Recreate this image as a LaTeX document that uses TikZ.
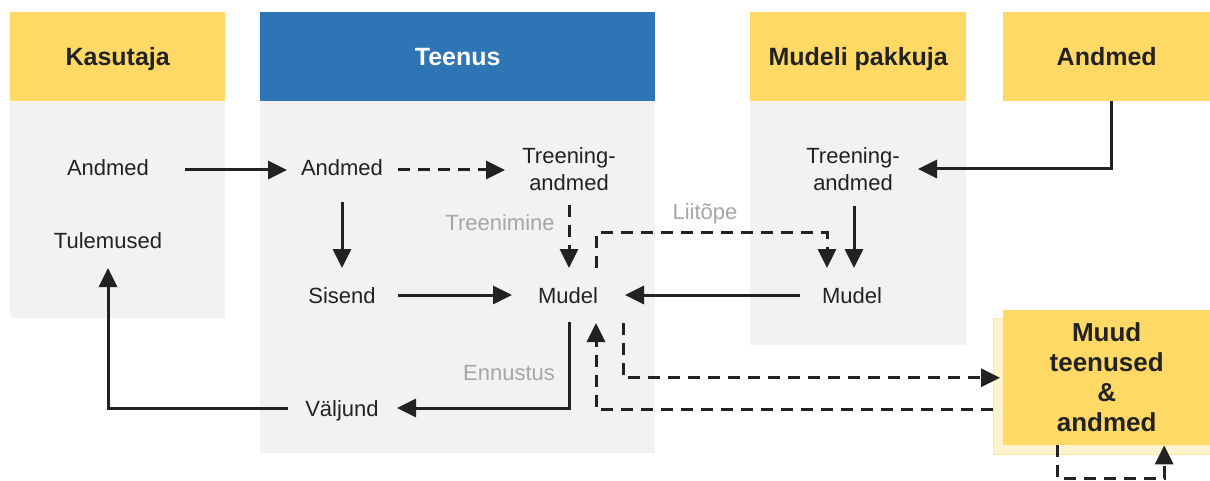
\documentclass[tikz,border=0pt]{standalone}
\usepackage{fontspec}
\setmainfont{Liberation Sans}
\usetikzlibrary{arrows.meta,calc}
\definecolor{hdryellow}{HTML}{FFD966}
\definecolor{hdrblue}{HTML}{2E75B6}
\definecolor{panelgray}{HTML}{F2F2F2}
\definecolor{ink}{HTML}{222222}
\definecolor{labelgray}{HTML}{A6A6A6}
\definecolor{paleyellow}{HTML}{FFF2CC}
\definecolor{paleedge}{HTML}{FFE699}
\begin{document}
\begin{tikzpicture}[x=1pt,y=-1pt,
  hdr/.style={anchor=north west, inner sep=0pt, minimum height=89pt,
    font=\fontsize{25}{30}\selectfont\bfseries, text=ink,
    text height=18pt, text depth=0pt},
  panel/.style={anchor=north west, inner sep=0pt, fill=panelgray},
  txt/.style={inner sep=0pt, font=\fontsize{22}{28}\selectfont, text=ink,
    text height=16pt, text depth=0pt},
  twoline/.style={inner sep=0pt, font=\fontsize{22}{27}\selectfont, text=ink, align=center},
  lbl/.style={txt, text=labelgray},
  arr/.style={draw=ink, line width=3pt, -{Triangle[length=19pt,width=18pt]}},
  darr/.style={arr, dash pattern=on 12pt off 8pt},
]
\useasboundingbox (0,0) rectangle (1210,481);

% panel bodies
\node[panel, minimum width=215pt, minimum height=217pt] (kBody) at (10,101) {};
\node[panel, minimum width=395pt, minimum height=352pt] (tBody) at (260,101) {};
\node[panel, minimum width=216pt, minimum height=244pt] (mBody) at (750,101) {};

% column headers
\node[hdr, fill=hdryellow, minimum width=215pt] (kHead) at (10,12) {Kasutaja};
\node[hdr, fill=hdrblue, text=white, minimum width=395pt] (tHead) at (260,12) {Teenus};
\node[hdr, fill=hdryellow, minimum width=216pt] (mHead) at (750,12) {Mudeli pakkuja};
\node[hdr, fill=hdryellow, minimum width=207pt] (aHead) at (1003,12) {Andmed};

% other services box with its offset backing sheet
\node[anchor=north west, inner sep=0pt, fill=paleyellow, draw=paleedge, line width=1pt,
  minimum width=217pt, minimum height=136pt] (muudBack) at (993,318) {};
\node[anchor=north west, inner sep=0pt, fill=hdryellow, minimum width=207pt, minimum height=135pt,
  align=center, font=\fontsize{26}{30}\selectfont\bfseries, text=ink] (muud) at (1003,310)
  {Muud\\teenused\\\&\\andmed};

% user column
\node[txt] (kA) at (108,168) {Andmed};
\node[txt] (kT) at (108,240) {Tulemused};

% service column
\node[txt] (tA) at (342,168) {Andmed};
\node[twoline] (tT) at (569,169) {Treening-\\andmed};
\node[txt] (tS) at (342,295) {Sisend};
\node[txt] (tM) at (568,295) {Mudel};
\node[txt] (tV) at (342,408) {Väljund};

% model provider column
\node[twoline] (mT) at (853,169) {Treening-\\andmed};
\node[txt] (mM) at (852,295) {Mudel};

% grey edge labels
\node[lbl] (lTr) at (500,222) {Treenimine};
\node[lbl] (lEn) at (509,372) {Ennustus};
\node[lbl] (lLi) at (705,211) {Liitõpe};

% connectors
\draw[arr] ($(kA)+(77,2)$) -- ($(tA)+(-55,2)$);
\draw[darr] ($(tA)+(56,2)$) -- ($(tT)+(-64,1)$);
\draw[arr] ($(tA)+(0,34)$) -- ($(tS)+(0,-27)$);
\draw[darr] ($(tT)+(0,36)$) -- ($(tM)+(1,-27)$);
\draw[arr] ($(tS)+(56,0)$) -- ($(tM)+(-56,0)$);
\draw[arr] ($(mM)+(-52,0)$) -- ($(tM)+(57,0)$);
\draw[arr] ($(mT)+(1,37)$) -- ($(mM)+(2,-27)$);
\draw[darr] ($(tM)+(28,-27)$) -- ($(tM)+(28,-62)$) -| ($(mM)+(-25,-27)$);
\draw[arr] ($(tM)+(1,27)$) |- ($(tV)+(55,0)$);
\draw[arr] ($(tV)+(-54,0)$) -| ($(kT)+(0,28)$);
\draw[darr] ($(tM)+(55,28)$) |- ($(muud.west)+(-3,0)$);
\draw[darr] ($(muud.west)+(-10,32)$) -| ($(tM)+(28,28)$);
\draw[darr] ($(muud.south)+(-49.5,0)$) -- ++(0,33) -| ($(muud.south)+(57.5,0)$);
\draw[arr] ($(aHead.south)+(4.5,0)$) |- ($(mT)+(65,0)$);
\end{tikzpicture}
\end{document}
